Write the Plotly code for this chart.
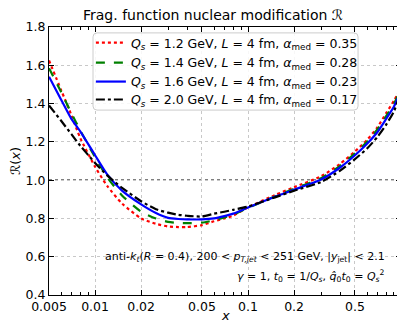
import plotly.graph_objects as go

x_vals = [0.005, 0.006, 0.007, 0.008, 0.01, 0.012, 0.015, 0.02, 0.025, 0.03, 0.035, 0.04,
          0.05, 0.06, 0.07, 0.08, 0.1, 0.15, 0.2, 0.3, 0.4, 0.5, 0.6, 0.7, 0.8, 0.9, 0.98]

r_qs12 = [1.625, 1.47, 1.34, 1.22, 1.07, 0.97, 0.878, 0.80, 0.772, 0.758, 0.755, 0.755,
          0.765, 0.785, 0.80, 0.815, 0.858, 0.922, 0.963, 1.02, 1.085, 1.15, 1.21, 1.275, 1.35, 1.415, 1.47]
r_qs14 = [1.585, 1.46, 1.35, 1.26, 1.12, 1.015, 0.92, 0.835, 0.80, 0.782, 0.776, 0.775,
          0.778, 0.79, 0.805, 0.82, 0.855, 0.915, 0.955, 1.01, 1.075, 1.14, 1.20, 1.265, 1.335, 1.40, 1.46]
r_qs16 = [1.54, 1.42, 1.32, 1.255, 1.13, 1.03, 0.945, 0.873, 0.828, 0.803, 0.797, 0.795,
          0.795, 0.80, 0.812, 0.825, 0.857, 0.913, 0.950, 1.003, 1.066, 1.13, 1.19, 1.25, 1.32, 1.385, 1.45]
r_qs20 = [1.39, 1.31, 1.24, 1.18, 1.09, 1.025, 0.96, 0.89, 0.848, 0.83, 0.819, 0.814,
          0.81, 0.825, 0.835, 0.845, 0.862, 0.91, 0.945, 0.99, 1.05, 1.11, 1.165, 1.225, 1.29, 1.36, 1.44]

labels = [
    "<i>Q<sub>s</sub></i> = 1.2 GeV, <i>L</i> = 4 fm, <i>α</i><sub>med</sub> = 0.35",
    "<i>Q<sub>s</sub></i> = 1.4 GeV, <i>L</i> = 4 fm, <i>α</i><sub>med</sub> = 0.28",
    "<i>Q<sub>s</sub></i> = 1.6 GeV, <i>L</i> = 4 fm, <i>α</i><sub>med</sub> = 0.23",
    "<i>Q<sub>s</sub></i> = 2.0 GeV, <i>L</i> = 4 fm, <i>α</i><sub>med</sub> = 0.17",
]
series = [r_qs12, r_qs14, r_qs16, r_qs20]
colors = ["#ff0000", "#008000", "#0000ff", "#000000"]
dashes = ["dot", "dash", "solid", "dashdot"]

x_tickvals = [0.005, 0.01, 0.02, 0.05, 0.1, 0.2, 0.5, 1]
x_ticktext = ["0.005", "0.01", "0.02", "0.05", "0.1", "0.2", "0.5", "1"]
x_minor = [0.006, 0.007, 0.008, 0.009, 0.03, 0.04, 0.06, 0.07, 0.08, 0.09,
           0.3, 0.4, 0.6, 0.7, 0.8, 0.9]
ref_level = 1.0

FONT = "DejaVu Sans"

# The page body has an 8px default margin; the figure is sized to fit the window.
W, H = 399, 318

legend_names = ["legend", "legend2", "legend3", "legend4"]
legend_rows_y = [0.940, 0.866, 0.795, 0.728]

fig = go.Figure()
for y, name, c, d, lg in zip(series, labels, colors, dashes, legend_names):
    fig.add_trace(go.Scatter(x=x_vals, y=y, mode="lines", name=name, legend=lg,
                             line=dict(color=c, dash=d, width=2.2, shape="spline", smoothing=0.6)))

fig.add_hline(y=ref_level, line=dict(color="black", dash="dot", width=1.2), layer="below")

# legend frame (rounded box)
x0, x1, y0, y1 = 0.125, 0.878, 0.690, 0.978
rx, ry = 4 / 352, 4 / 268
frame = (f"M{x0+rx},{y1} L{x1-rx},{y1} Q{x1},{y1} {x1},{y1-ry} L{x1},{y0+ry} "
         f"Q{x1},{y0} {x1-rx},{y0} L{x0+rx},{y0} Q{x0},{y0} {x0},{y0+ry} "
         f"L{x0},{y1-ry} Q{x0},{y1} {x0+rx},{y1} Z")
fig.add_shape(type="path", path=frame, xref="paper", yref="paper", layer="above",
              fillcolor="rgba(255,255,255,0.85)", line=dict(color="#cccccc", width=1))

axis_common = dict(showline=True, linecolor="black", linewidth=1.2, mirror="allticks",
                   ticks="inside", tickcolor="black", ticklen=5, tickwidth=1,
                   showgrid=True, gridcolor="#c8c8c8", griddash="dot", gridwidth=1,
                   zeroline=False, automargin=False, ticklabeloverflow="allow",
                   tickfont=dict(family=FONT, size=12.5, color="black"))

fig.update_xaxes(type="log", range=[-2.3012, 0.0001], tickmode="array",
                 tickvals=x_tickvals, ticktext=x_ticktext,
                 minor=dict(tickmode="array", tickvals=x_minor, ticks="inside", ticklen=3,
                            tickcolor="black", showgrid=False),
                 **axis_common)
fig.update_yaxes(range=[0.4, 1.8], tickmode="linear", tick0=0.4, dtick=0.2, tickformat=".1f",
                 title=dict(text="ℛ(<i>x</i>)", font=dict(family=FONT, size=13), standoff=4),
                 **axis_common)

fig.add_annotation(xref="paper", yref="paper", x=0.5, y=-0.078, xanchor="center", yanchor="middle",
                   showarrow=False, font=dict(family=FONT, size=13, color="black"),
                   text="<i>x</i>")
fig.add_annotation(xref="paper", yref="paper", x=0.960, y=0.142, xanchor="right", yanchor="middle",
                   showarrow=False, font=dict(family=FONT, size=11, color="black"),
                   text="anti-<i>k<sub>t</sub></i>(<i>R</i> = 0.4), 200 &lt; <i>p<sub>T,jet</sub></i> &lt; 251 GeV, |<i>y</i><sub>jet</sub>| &lt; 2.1")
fig.add_annotation(xref="paper", yref="paper", x=0.960, y=0.072, xanchor="right", yanchor="middle",
                   showarrow=False, font=dict(family=FONT, size=11, color="black"),
                   text="<i>γ</i> = 1, <i>t</i><sub>0</sub> = 1/<i>Q<sub>s</sub></i>, <i>q̂</i><sub>0</sub><i>t</i><sub>0</sub> = <i>Q<sub>s</sub></i><sup>2</sup>")

legend_style = dict(x=0.119, xanchor="left", yanchor="middle", bgcolor="rgba(0,0,0,0)",
                    borderwidth=0, font=dict(family=FONT, size=12.5), itemwidth=30)
legend_layout = {lg: dict(y=yy, **legend_style) for lg, yy in zip(legend_names, legend_rows_y)}

fig.update_layout(
    width=W, height=H,
    margin=dict(l=41, r=6, t=19, b=31),
    paper_bgcolor="white", plot_bgcolor="white",
    font=dict(family=FONT, color="black"),
    title=dict(text="Frag. function nuclear modification ℛ", xref="container", x=75 / W, xanchor="left",
               y=0.978, yanchor="middle", font=dict(family=FONT, size=14)),
    showlegend=True,
    **legend_layout,
)

fig.write_html("out.html")
